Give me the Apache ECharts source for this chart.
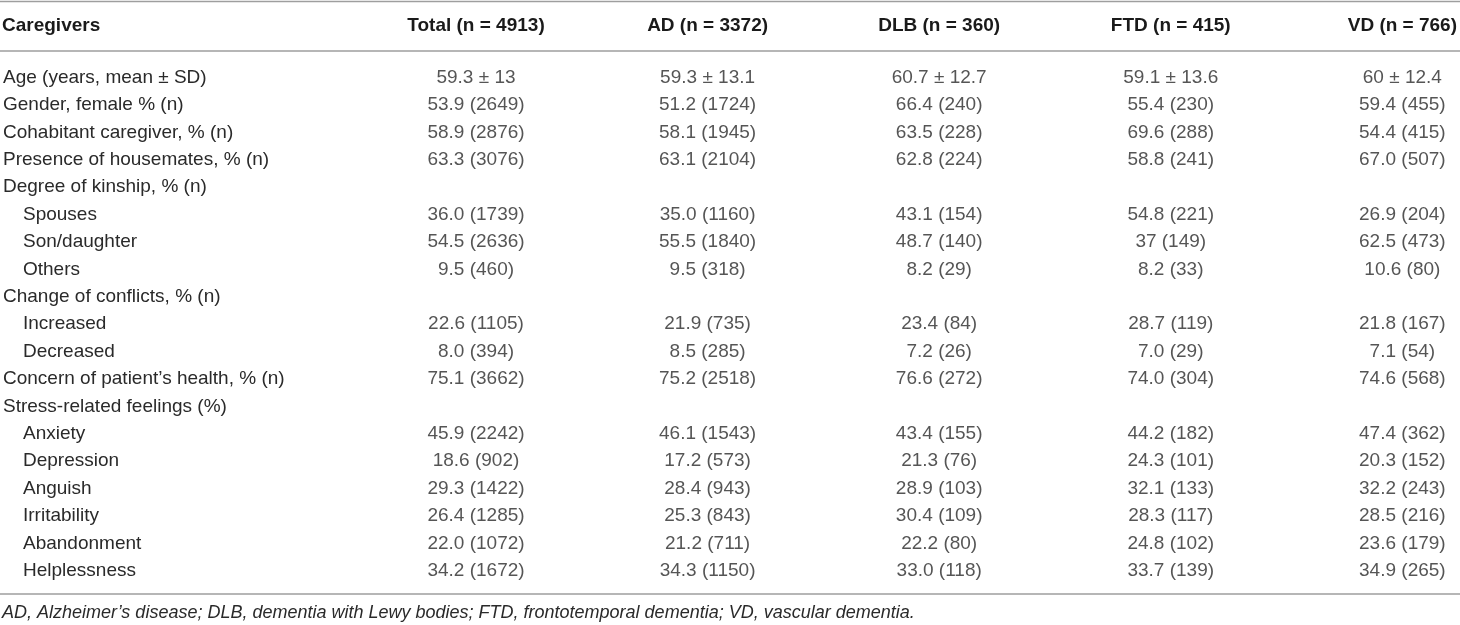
<!DOCTYPE html>
<html>
<head>
<meta charset="utf-8">
<script src="https://cdn.jsdelivr.net/npm/echarts@6/dist/echarts.min.js"></script>
<style>
html,body{margin:0;padding:0;background:#fff;}
#chart{width:1460px;height:625px;}
</style>
</head>
<body>
<div id="chart"></div>
<script>
// ---- DATA ----
const headerTitle = 'Caregivers';
const groups = ['Total (n = 4913)', 'AD (n = 3372)', 'DLB (n = 360)', 'FTD (n = 415)', 'VD (n = 766)'];
const rowLabels = [
  'Age (years, mean \u00b1 SD)',
  'Gender, female % (n)',
  'Cohabitant caregiver, % (n)',
  'Presence of housemates, % (n)',
  'Degree of kinship, % (n)',
  'Spouses',
  'Son/daughter',
  'Others',
  'Change of conflicts, % (n)',
  'Increased',
  'Decreased',
  'Concern of patient\u2019s health, % (n)',
  'Stress-related feelings (%)',
  'Anxiety',
  'Depression',
  'Anguish',
  'Irritability',
  'Abandonment',
  'Helplessness'
];
const subRow = [0,0,0,0,0,1,1,1,0,1,1,0,0,1,1,1,1,1,1];
const totalCol = ['59.3 \u00b1 13','53.9 (2649)','58.9 (2876)','63.3 (3076)','','36.0 (1739)','54.5 (2636)','9.5 (460)','','22.6 (1105)','8.0 (394)','75.1 (3662)','','45.9 (2242)','18.6 (902)','29.3 (1422)','26.4 (1285)','22.0 (1072)','34.2 (1672)'];
const adCol = ['59.3 \u00b1 13.1','51.2 (1724)','58.1 (1945)','63.1 (2104)','','35.0 (1160)','55.5 (1840)','9.5 (318)','','21.9 (735)','8.5 (285)','75.2 (2518)','','46.1 (1543)','17.2 (573)','28.4 (943)','25.3 (843)','21.2 (711)','34.3 (1150)'];
const dlbCol = ['60.7 \u00b1 12.7','66.4 (240)','63.5 (228)','62.8 (224)','','43.1 (154)','48.7 (140)','8.2 (29)','','23.4 (84)','7.2 (26)','76.6 (272)','','43.4 (155)','21.3 (76)','28.9 (103)','30.4 (109)','22.2 (80)','33.0 (118)'];
const ftdCol = ['59.1 \u00b1 13.6','55.4 (230)','69.6 (288)','58.8 (241)','','54.8 (221)','37 (149)','8.2 (33)','','28.7 (119)','7.0 (29)','74.0 (304)','','44.2 (182)','24.3 (101)','32.1 (133)','28.3 (117)','24.8 (102)','33.7 (139)'];
const vdCol = ['60 \u00b1 12.4','59.4 (455)','54.4 (415)','67.0 (507)','','26.9 (204)','62.5 (473)','10.6 (80)','','21.8 (167)','7.1 (54)','74.6 (568)','','47.4 (362)','20.3 (152)','32.2 (243)','28.5 (216)','23.6 (179)','34.9 (265)'];
const footnote = 'AD, Alzheimer\u2019s disease; DLB, dementia with Lewy bodies; FTD, frontotemporal dementia; VD, vascular dementia.';

// ---- BUILD ----
const FONT = '"Liberation Sans", Arial, Helvetica, sans-serif';
const TXT = '#2a2a2a';
const columns = [totalCol, adCol, dlbCol, ftdCol, vdCol];
const cells = [];
columns.forEach((col, c) => {
  col.forEach((v, r) => {
    if (v !== '') cells.push({ value: [c, r], text: v });
  });
});

const chart = echarts.init(document.getElementById('chart'), null, { renderer: 'canvas' });
const GRID_LEFT = 475;
const option = {
  backgroundColor: '#ffffff',
  animation: false,
  title: [
    {
      text: headerTitle, left: 2, top: 15, padding: 0,
      textStyle: { fontFamily: FONT, fontSize: 19, fontWeight: 'bold', color: '#1a1a1a', lineHeight: 22 }
    },
    {
      text: footnote, left: 2, top: 602, padding: 0,
      textStyle: { fontFamily: FONT, fontSize: 18, fontStyle: 'italic', fontWeight: 'normal', color: TXT, lineHeight: 22 }
    }
  ],
  grid: { left: GRID_LEFT, right: 54, top: 77.5, height: 493.2, containLabel: false },
  xAxis: {
    type: 'category', position: 'top', data: groups, boundaryGap: false,
    axisLine: { show: false }, axisTick: { show: false }, splitLine: { show: false },
    axisLabel: {
      interval: 0, margin: 51.5, verticalAlign: 'middle',
      fontFamily: FONT, fontSize: 19, fontWeight: 'bold', color: '#1a1a1a'
    }
  },
  yAxis: {
    type: 'category', data: rowLabels, inverse: true, boundaryGap: false,
    axisLine: { show: false }, axisTick: { show: false }, splitLine: { show: false },
    axisLabel: {
      interval: 0, align: 'left', margin: GRID_LEFT - 2,
      fontFamily: FONT, fontSize: 19, color: TXT,
      formatter: (val, idx) => subRow[idx] ? '{ind|' + val + '}' : val,
      rich: { ind: { padding: [0, 0, 0, 20], fontFamily: FONT, fontSize: 19, color: TXT } }
    }
  },
  graphic: [
    { type: 'line', shape: { x1: 0, y1: 1.5, x2: 1460, y2: 1.5 }, style: { stroke: '#9e9e9e', lineWidth: 1.5 } },
    { type: 'line', shape: { x1: 0, y1: 51, x2: 1460, y2: 51 }, style: { stroke: '#9e9e9e', lineWidth: 1.5 } },
    { type: 'line', shape: { x1: 0, y1: 594, x2: 1460, y2: 594 }, style: { stroke: '#9e9e9e', lineWidth: 1.5 } }
  ],
  series: [{
    type: 'scatter',
    symbolSize: 0,
    data: cells,
    silent: true,
    label: {
      show: true, position: 'inside',
      formatter: p => p.data.text,
      fontFamily: FONT, fontSize: 19, color: TXT
    }
  }]
};
chart.setOption(option);
</script>
</body>
</html>
